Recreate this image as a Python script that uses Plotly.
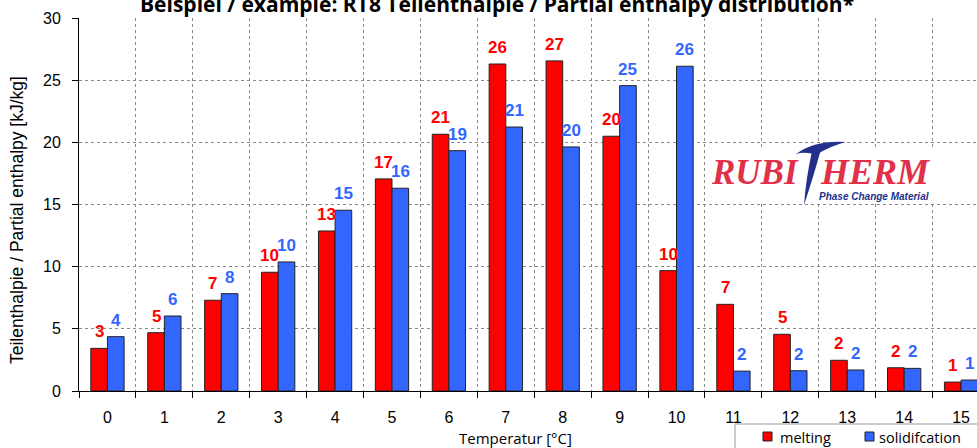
import plotly.graph_objects as go

# ---- data ----
temperatures = list(range(16))
tick_labels = [str(t) for t in temperatures]
melting = [3.43, 4.69, 7.30, 9.55, 12.87, 17.06, 20.65, 26.30, 26.55, 20.49, 9.68, 6.97, 4.56, 2.47, 1.87, 0.72]
solidification = [4.37, 6.03, 7.83, 10.38, 14.54, 16.31, 19.33, 21.23, 19.63, 24.56, 26.12, 1.60, 1.63, 1.69, 1.82, 0.88]
series_names = ["melting", "solidifcation"]
title_text = "Beispiel / example: RT8 Teilenthalpie / Partial enthalpy distribution*"
y_title = "Teilenthalpie / Partial enthalpy [kJ/kg]"
x_title = "Temperatur [°C]"

RED = "#FF0000"
BLUE = "#3366FF"
W, H = 977, 448
ML, MR, MT, MB = 79, 0, 18, 57
PW, PH = W - ML - MR, H - MT - MB
BARGAP = 0.415


def px_x(p):
    return (p - ML) / PW


def px_y(p):
    return (H - MB - p) / PH


fig = go.Figure()
fig.add_trace(go.Bar(x=temperatures, y=melting, name=series_names[0],
                     marker=dict(color=RED, line=dict(color="#222222", width=1))))
fig.add_trace(go.Bar(x=temperatures, y=solidification, name=series_names[1],
                     marker=dict(color=BLUE, line=dict(color="#222222", width=1))))

annotations = []
off = (1 - BARGAP) / 4
for xs, vals, col in ((-off, melting, RED), (off, solidification, BLUE)):
    for t, v in zip(temperatures, vals):
        annotations.append(dict(x=t + xs, y=v, xref="x", yref="y", text=f"{round(v)}",
                                showarrow=False, yanchor="bottom", yshift=5,
                                font=dict(family="Liberation Sans", size=17, color=col, weight="bold")))

# title (partly cut at top)
annotations.append(dict(x=px_x(497), y=px_y(4), xref="paper", yref="paper", text=f"<b>{title_text}</b>",
                        showarrow=False, xanchor="center", yanchor="middle",
                        font=dict(family="Open Sans", size=21, color="black")))
# axis titles
annotations.append(dict(x=px_x(17), y=px_y(220), xref="paper", yref="paper", text=y_title,
                        showarrow=False, textangle=-90, xanchor="center", yanchor="middle",
                        font=dict(family="Liberation Sans", size=17.5, color="black")))
annotations.append(dict(x=px_x(515), y=px_y(438), xref="paper", yref="paper", text=x_title,
                        showarrow=False, xanchor="center", yanchor="middle",
                        font=dict(family="Open Sans", size=15, color="black")))
# logo
LOGO_RED = "#E0304A"
LOGO_BLUE = "#23318C"
annotations.append(dict(x=px_x(801), y=px_y(172), xref="paper", yref="paper", text="<b><i>RUBI</i></b>",
                        showarrow=False, xanchor="right", yanchor="middle",
                        font=dict(family="Liberation Serif", size=35, color=LOGO_RED)))
annotations.append(dict(x=px_x(818), y=px_y(172), xref="paper", yref="paper", text="<b><i>HERM</i></b>",
                        showarrow=False, xanchor="left", yanchor="middle",
                        font=dict(family="Liberation Serif", size=36, color=LOGO_RED)))
annotations.append(dict(x=px_x(874), y=px_y(196), xref="paper", yref="paper", text="<b><i>Phase Change Material</i></b>",
                        showarrow=False, xanchor="center", yanchor="middle",
                        font=dict(family="Liberation Sans", size=10, color=LOGO_BLUE)))

# legend (drawn manually to match the reference spacing)
legend_items = [(series_names[0], RED, 763, 778), (series_names[1], BLUE, 865, 877)]
for name, col, sx, tx in legend_items:
    annotations.append(dict(x=px_x(tx), y=px_y(437), xref="paper", yref="paper", text=name,
                            showarrow=False, xanchor="left", yanchor="middle",
                            font=dict(family="Open Sans", size=14.5, color="black")))


def path(cmds):
    out = []
    for c in cmds:
        if isinstance(c, str):
            out.append(c)
        else:
            out.append(f"{px_x(c[0]):.5f},{px_y(c[1]):.5f}")
    return " ".join(out)


shapes = [
    dict(type="rect", xref="paper", yref="paper", x0=px_x(705), x1=px_x(948), y0=px_y(147), y1=px_y(201),
         fillcolor="white", line=dict(width=0), layer="above"),
    # swoosh (top bar of the T)
    dict(type="path", xref="paper", yref="paper", layer="above", fillcolor=LOGO_BLUE, line=dict(width=0),
         path=path(["M", (796, 154), "Q", (815, 140), (846, 142), "Q", (830, 146), (816, 155), "Q", (806, 151), (796, 154), "Z"])),
    # stem of the T
    dict(type="path", xref="paper", yref="paper", layer="above", fillcolor=LOGO_BLUE, line=dict(width=0),
         path=path(["M", (812, 151), "L", (821, 149), "Q", (814, 175), (804, 205), "Q", (806, 178), (812, 151), "Z"])),
    # legend box
    dict(type="rect", xref="paper", yref="paper", x0=px_x(735), x1=px_x(995), y0=px_y(424), y1=px_y(455),
         fillcolor="white", line=dict(color="#999999", width=1), layer="above"),
]
for name, col, sx, tx in legend_items:
    shapes.append(dict(type="rect", xref="paper", yref="paper", x0=px_x(sx), x1=px_x(sx + 9),
                       y0=px_y(432), y1=px_y(441), fillcolor=col, line=dict(color="#222222", width=1),
                       layer="above"))

grid_col = "#8a8a8a"
fig.update_layout(
    width=W, height=H,
    margin=dict(l=ML, r=MR, t=MT, b=MB, autoexpand=False),
    plot_bgcolor="white", paper_bgcolor="white",
    barmode="group", bargap=BARGAP, bargroupgap=0,
    showlegend=False,
    annotations=annotations,
    shapes=shapes,
    xaxis=dict(range=[-0.5, 15.28], tickmode="array", tickvals=temperatures, ticktext=tick_labels,
               ticks="outside", ticklen=0, showgrid=False, zeroline=False, automargin=False,
               showline=True, linecolor="black", linewidth=1,
               tickfont=dict(family="Liberation Sans", size=16, color="black"), ticklabelstandoff=12,
               minor=dict(tick0=-0.5, dtick=1, ticks="outside", ticklen=6, tickcolor="black",
                          showgrid=True, gridcolor=grid_col, griddash="dot", gridwidth=1)),
    yaxis=dict(range=[0, 30], dtick=5, ticks="outside", ticklen=6, tickcolor="black", automargin=False,
               showgrid=True, gridcolor=grid_col, griddash="dot", gridwidth=1, zeroline=False,
               showline=True, linecolor="black", linewidth=1,
               tickfont=dict(family="Liberation Sans", size=16, color="black"), ticklabelstandoff=8),
)

fig.write_html("out.html", config={"displayModeBar": False},
               post_script="document.body.style.margin='0';document.body.style.overflow='hidden';")
